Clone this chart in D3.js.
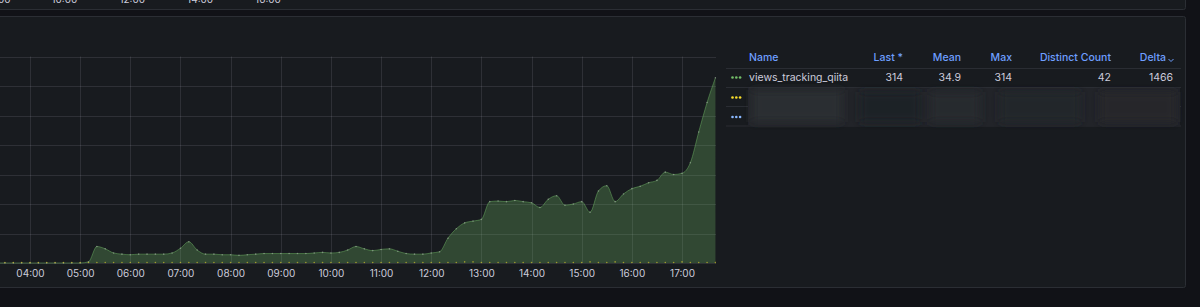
<!DOCTYPE html>
<html>
<head>
<meta charset="utf-8">
<script src="https://cdn.jsdelivr.net/npm/d3@7"></script>
<style>
  html, body { margin: 0; padding: 0; background: #111217; }
  svg { display: block; font-family: Inter, "Noto Sans", sans-serif; }
</style>
</head>
<body>
<div class="container"></div>
<script>
// series sampled every 10 minutes, 03:20 -> 17:40
var startTime = "03:20";
var qiitaViews = [
  0, 0, 0, 0, 0, 0, 0, 0, 0, 0,
  0, 2, 28, 24, 17, 15,
  14, 15, 15, 15, 15, 17,
  25, 36, 22, 15, 15, 14,
  14, 13, 14, 15, 16, 16,
  16, 16, 16, 16, 17, 18,
  17, 18, 22, 28, 24, 21,
  23, 24, 20, 16, 15, 15,
  17, 19, 42, 58, 68, 71,
  74, 104, 105, 104, 106, 104,
  102, 94, 108, 114, 98, 100,
  104, 86, 122, 131, 104, 117,
  126, 130, 136, 140, 154, 150,
  152, 170, 222, 272, 314
];
var otherViews = [
  0, 0, 0, 0, 0, 0, 0, 0, 0, 0,
  0, 0, 0, 0, 0, 0,
  0, 0, 0, 0, 0, 0,
  0, 0, 0, 0, 0, 0,
  0, 0, 0, 0, 0, 0,
  0, 0, 0, 0, 0, 0,
  0, 0, 0, 0, 0, 0,
  0, 0, 0, 0, 0, 0,
  0, 0, 0, 0, 1, 1,
  0, 0, 0, 0, 0, 0,
  0, 0, 0, 0, 0, 0,
  0, 1, 0, 0, 1, 0,
  0, 0, 0, 0, 0, 0,
  1, 0, 0, 0, 0
];
var yTicks = [0, 50, 100, 150, 200, 250, 300, 350];
var topPanelLabels = ["08:00", "10:00", "12:00", "14:00", "16:00"];

var legendHeaders = ["Name", "Last *", "Mean", "Max", "Distinct Count", "Delta"];
var legendRow = ["views_tracking_qiita", "314", "34.9", "314", "42", "1466"];
var legendColors = ["#73BF69", "#FADE2A", "#8AB8FF"];

var W = 1200, H = 307;
var svg = d3.select(".container").append("svg")
  .attr("width", W).attr("height", H);

var day = function(hm){
  var p = hm.split(":");
  return new Date(2024, 0, 1, +p[0], +p[1]);
};
var t0 = day(startTime);
var times = qiitaViews.map(function(d, i){ return d3.timeMinute.offset(t0, i * 10); });

// top panel (cropped by the screenshot)
svg.append("rect").attr("x", -5).attr("y", -20).attr("width", 1190.5).attr("height", 29.5)
  .attr("rx", 2).attr("fill", "#181b1f").attr("stroke", "#2b2e34");
var topX = d3.scaleLinear().domain([0, 4]).range([-3.5, 268]);
svg.selectAll(".toplab").data(topPanelLabels).enter().append("text")
  .attr("x", function(d, i){ return topX(i); }).attr("y", 3)
  .attr("text-anchor", "middle").attr("font-size", 10).attr("fill", "#ccccdc")
  .text(function(d){ return d; });

// main panel
svg.append("rect").attr("x", -5).attr("y", 16.5).attr("width", 1190.5).attr("height", 271)
  .attr("rx", 2).attr("fill", "#181b1f").attr("stroke", "#2b2e34");

var x = d3.scaleTime().domain([day("04:00"), day("17:00")]).range([30, 682]);
var y = d3.scaleLinear().domain([0, 350]).range([263, 56.5]);
var plotRight = 716;

svg.append("clipPath").attr("id", "plotclip").append("rect")
  .attr("x", 0).attr("y", 0).attr("width", plotRight).attr("height", 264);

var grid = svg.append("g").attr("clip-path", "url(#plotclip)");
grid.selectAll(".hg").data(yTicks).enter().append("line")
  .attr("x1", 0).attr("x2", plotRight)
  .attr("y1", function(d){ return Math.round(y(d)) + 0.5; })
  .attr("y2", function(d){ return Math.round(y(d)) + 0.5; })
  .attr("stroke", "rgba(204,204,220,0.12)");
var hours = d3.timeHour.every(1).range(day("03:00"), day("18:00"));
grid.selectAll(".vg").data(hours).enter().append("line")
  .attr("x1", function(d){ return Math.round(x(d)) + 0.5; })
  .attr("x2", function(d){ return Math.round(x(d)) + 0.5; })
  .attr("y1", y(350)).attr("y2", y(0))
  .attr("stroke", "rgba(204,204,220,0.12)");

var area = d3.area().curve(d3.curveMonotoneX)
  .x(function(d, i){ return x(times[i]); })
  .y0(y(0)).y1(function(d){ return y(d); });
var line = d3.line().curve(d3.curveMonotoneX)
  .x(function(d, i){ return x(times[i]); })
  .y(function(d){ return y(d); });

var plot = svg.append("g").attr("clip-path", "url(#plotclip)");
plot.append("path").datum(qiitaViews).attr("d", area)
  .attr("fill", "#73BF69").attr("fill-opacity", 0.28);
plot.append("path").datum(qiitaViews).attr("d", line)
  .attr("fill", "none").attr("stroke", "#73BF69").attr("stroke-opacity", 0.45).attr("stroke-width", 1);
plot.selectAll(".gp").data(qiitaViews).enter().append("circle")
  .attr("cx", function(d, i){ return x(times[i]); })
  .attr("cy", function(d){ return y(d); })
  .attr("r", 0.8).attr("fill", "#a9b8a6").attr("fill-opacity", 0.6);
plot.selectAll(".yp").data(otherViews).enter().append("circle")
  .attr("cx", function(d, i){ return x(times[i]); })
  .attr("cy", function(d){ return y(d) - 0.5; })
  .attr("r", 0.8).attr("fill", "#FADE2A").attr("fill-opacity", 0.55);

// x axis labels
var xAxis = d3.axisBottom(x).ticks(d3.timeHour.every(1)).tickFormat(d3.timeFormat("%H:%M")).tickSize(0);
var gx = svg.append("g").attr("transform", "translate(0,267)").call(xAxis);
gx.select(".domain").remove();
gx.selectAll("text").attr("font-size", 10).attr("fill", "#ccccdc")
  .attr("font-family", "Inter, sans-serif").attr("dy", "0.71em");

// legend table
var colRight = [null, 903, 961, 1012, 1111, 1166];
var legend = svg.append("g").attr("font-size", 10.5);
legend.selectAll(".hdr").data(legendHeaders).enter().append("text")
  .attr("x", function(d, i){ return i === 0 ? 749 : colRight[i]; })
  .attr("y", 61)
  .attr("text-anchor", function(d, i){ return i === 0 ? "start" : "end"; })
  .attr("fill", "#6E9FFF").attr("font-weight", 500)
  .text(function(d){ return d; });
legend.append("path").attr("d", "M1168.5,59 l2.5,2.5 l2.5,-2.5")
  .attr("fill", "none").attr("stroke", "#6E9FFF").attr("stroke-width", 1);

var rowLines = [68.5, 87.5, 106.5, 126];
legend.selectAll(".sep").data(rowLines).enter().append("line")
  .attr("x1", 726).attr("x2", 1181).attr("y1", function(d){ return d; }).attr("y2", function(d){ return d; })
  .attr("stroke", "#2a2d33");

var colRightRow = [null, 903, 961, 1012, 1111, 1173];
legend.selectAll(".val").data(legendRow).enter().append("text")
  .attr("x", function(d, i){ return i === 0 ? 749 : colRightRow[i]; })
  .attr("y", 80.5)
  .attr("text-anchor", function(d, i){ return i === 0 ? "start" : "end"; })
  .attr("fill", "#ccccdc")
  .text(function(d){ return d; });

var rowY = [77.5, 97.5, 117];
legendColors.forEach(function(c, r){
  legend.selectAll(".dot" + r).data([0, 1, 2]).enter().append("circle")
    .attr("cx", function(d){ return 732.5 + d * 3.8; })
    .attr("cy", rowY[r]).attr("r", 1.3).attr("fill", c);
});

// blurred rows
var defs = svg.append("defs");
defs.append("filter").attr("id", "blur").attr("x", "-10%").attr("y", "-50%").attr("width", "120%").attr("height", "200%")
  .append("feGaussianBlur").attr("stdDeviation", 4);
var blurG = svg.append("g");
blurG.append("rect").attr("x", 748).attr("y", 88).attr("width", 432).attr("height", 38).attr("fill", "#222429");
var patches = svg.append("g").attr("filter", "url(#blur)");
patches.append("rect").attr("x", 752).attr("y", 90).attr("width", 90).attr("height", 32).attr("fill", "#2b2d32");
patches.append("rect").attr("x", 860).attr("y", 92).attr("width", 60).attr("height", 30).attr("fill", "#1f2126");
patches.append("rect").attr("x", 930).attr("y", 92).attr("width", 50).attr("height", 30).attr("fill", "#272a2e");
patches.append("rect").attr("x", 1000).attr("y", 92).attr("width", 80).attr("height", 30).attr("fill", "#232529");
patches.append("rect").attr("x", 1100).attr("y", 92).attr("width", 76).attr("height", 30).attr("fill", "#25272b");
</script>
</body>
</html>
